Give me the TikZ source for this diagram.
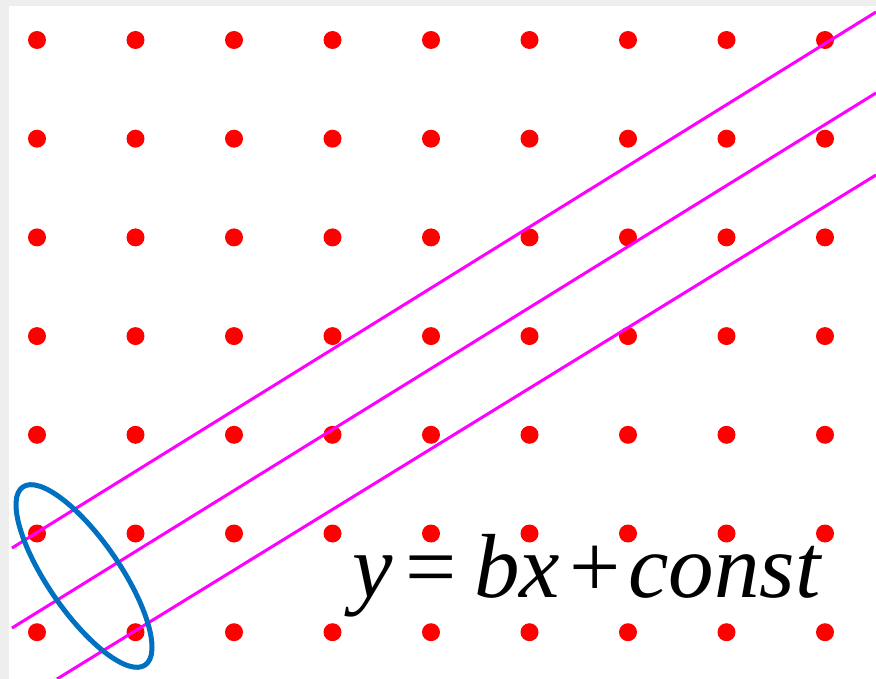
\documentclass[tikz,border=0pt]{standalone}
\usepackage{fontspec}
\setmainfont{Liberation Serif}
\usetikzlibrary{shapes.geometric}
\definecolor{ellblue}{HTML}{0070C0}
\definecolor{linemag}{HTML}{FF00FF}
\definecolor{frame}{HTML}{EEEEEE}
\tikzset{
  dot/.style={circle, fill=red, inner sep=0pt, minimum size=18pt},
  magline/.style={draw=linemag, line width=3pt},
  ringstyle/.style={draw=ellblue, line width=5pt, ellipse, inner sep=0pt},
  eqpart/.style={anchor=base west, inner sep=0pt, font=\fontsize{91}{91}\selectfont},
}
\begin{document}
\begin{tikzpicture}[x=1pt,y=-1pt]
\useasboundingbox (0,0) rectangle (876,679);
\fill[white] (0,0) rectangle (876,679);
\fill[frame] (0,0) rectangle (9,679);
\fill[frame] (0,0) rectangle (876,6);
\foreach \i in {0,...,8}{
  \foreach \j in {0,...,6}{
    \node[dot] (d-\i-\j) at ({37+98.5*\i},{40+98.7*\j}) {};
  }
}
\coordinate (l1a) at (12,548);
\coordinate (l1b) at (876,12);
\coordinate (l2a) at (12,628);
\coordinate (l2b) at (876,93);
\coordinate (l3a) at (57,679);
\coordinate (l3b) at (876,175);
\draw[magline] (l1a) -- (l1b);
\draw[magline] (l2a) -- (l2b);
\draw[magline] (l3a) -- (l3b);
\node[ringstyle, minimum width=216pt, minimum height=72pt, rotate=-55.5] (ring) at (84,576) {};
\node[eqpart] (eqy) at (352,597) {\itshape y};
\node[eqpart] (eqeq) at (405,597) {=};
\node[eqpart] (eqbx) at (474,597) {\itshape bx};
\node[eqpart] (eqplus) at (569,597) {+};
\node[eqpart] (eqconst) at (628,597) {\itshape const};
\end{tikzpicture}
\end{document}
